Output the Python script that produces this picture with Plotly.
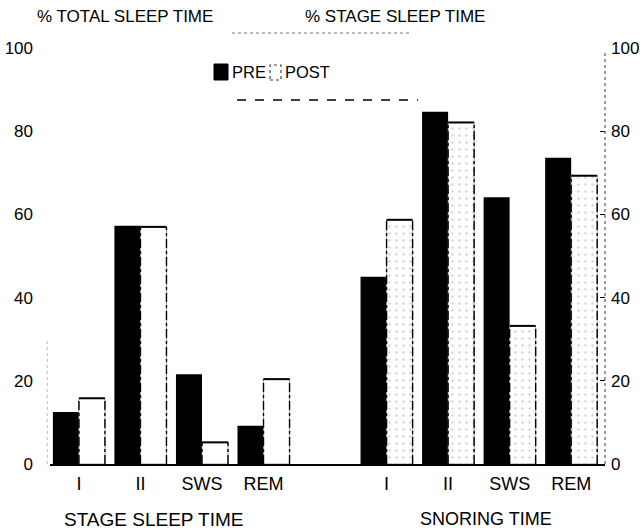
import plotly.graph_objects as go

# ---- data ----
stages = ["I", "II", "SWS", "REM"]
total_pre = [12.5, 57.3, 21.6, 9.2]      # % total sleep time, PRE
total_post = [15.8, 57.0, 5.2, 20.4]     # % total sleep time, POST
snore_pre = [45.0, 84.7, 64.1, 73.6]     # % stage sleep time (snoring), PRE
snore_post = [58.7, 82.1, 33.2, 69.3]    # % stage sleep time (snoring), POST
y_ticks = [0, 20, 40, 60, 80, 100]

# ---- layout constants ----
GROUP_OFFSET = 5
W = 0.423
FONT = "Liberation Sans, Arial, sans-serif"
L, R, T, B = 50, 39, 48, 68
PW, PH = 644 - L - R, 532 - T - B


def px(x):
    return (x - L) / PW


def py(y):
    return (532 - B - y) / PH


left_pos = list(range(len(stages)))
right_pos = [i + GROUP_OFFSET for i in range(len(stages))]

fig = go.Figure()

fig.add_trace(go.Bar(x=left_pos, y=total_pre, width=W, offset=-W, name="PRE",
                     marker=dict(color="black", line=dict(width=0)), yaxis="y"))
fig.add_trace(go.Bar(x=left_pos, y=total_post, width=W, offset=0, name="POST",
                     marker=dict(color="white", line=dict(color="#888", width=0.8)),
                     yaxis="y"))
fig.add_trace(go.Bar(x=right_pos, y=snore_pre, width=W, offset=-W, name="PRE",
                     marker=dict(color="black", line=dict(width=0)), yaxis="y2"))
fig.add_trace(go.Bar(x=right_pos, y=snore_post, width=W, offset=0, name="POST",
                     marker=dict(color="white", line=dict(color="#888", width=0.8),
                                 pattern=dict(shape=".", fgcolor="#aaa", size=7, solidity=0.1)),
                     yaxis="y2"))


# dash-dot outlines of POST bars (built from the data)
def outline(pos, vals, axis):
    tx, ty, sx, sy = [], [], [], []
    for p, v in zip(pos, vals):
        tx += [p, p + W, None]
        ty += [v, v, None]
        sx += [p, p, None, p + W, p + W, None]
        sy += [0, v, None, 0, v, None]
    fig.add_trace(go.Scatter(x=sx, y=sy, mode="lines", yaxis=axis, showlegend=False,
                             hoverinfo="skip", line=dict(color="black", width=1.4, dash="dashdot")))
    fig.add_trace(go.Scatter(x=tx, y=ty, mode="lines", yaxis=axis, showlegend=False,
                             hoverinfo="skip", line=dict(color="black", width=2)))


outline(left_pos, total_post, "y")
outline(right_pos, snore_post, "y2")

ann = dict(xref="paper", yref="paper", showarrow=False, xanchor="center", yanchor="middle")

fig.update_layout(
    width=644, height=532,
    margin=dict(l=L, r=R, t=T, b=B, autoexpand=False),
    paper_bgcolor="white", plot_bgcolor="white",
    barmode="overlay",
    font=dict(family=FONT, size=17, color="black"),
    showlegend=False,
    xaxis=dict(range=[-0.47, 8.55], tickvals=left_pos + right_pos,
               ticktext=stages + stages, showgrid=False, zeroline=False,
               showline=True, linecolor="black", linewidth=2, ticks="",
               ticklabelstandoff=2, tickfont=dict(size=18), automargin=False),
    yaxis=dict(range=[0, 100], tickvals=y_ticks, showgrid=False, zeroline=False,
               showline=False, ticks="", ticklabelstandoff=16, tickfont=dict(size=17),
               automargin=False),
    yaxis2=dict(range=[0, 100], tickvals=y_ticks, overlaying="y", side="right",
                showgrid=False, zeroline=False, showline=False, ticks="inside",
                ticklen=5, tickcolor="black", ticklabelstandoff=5, tickfont=dict(size=17),
                automargin=False),
    annotations=[
        dict(ann, text="% TOTAL SLEEP TIME", x=px(125), y=py(16), font=dict(size=17)),
        dict(ann, text="% STAGE SLEEP TIME", x=px(395), y=py(16), font=dict(size=17)),
        dict(ann, text="STAGE SLEEP TIME", x=px(154), y=py(519), font=dict(size=19)),
        dict(ann, text="SNORING TIME", x=px(486), y=py(519), font=dict(size=18)),
        # legend labels
        dict(ann, text="PRE", x=px(230), y=py(72), xanchor="left", font=dict(size=16.5)),
        dict(ann, text="POST", x=px(283), y=py(72), xanchor="left", font=dict(size=16.5)),
    ],
    shapes=[
        # right axis (dotted)
        dict(type="line", xref="paper", yref="paper", x0=1, x1=1, y0=0, y1=0.99,
             line=dict(color="#555", width=1.2, dash="dot")),
        # faint left axis trace
        dict(type="line", xref="paper", yref="paper", x0=-0.005, x1=-0.005, y0=0, y1=0.3,
             line=dict(color="#bbb", width=1, dash="dot")),
        # legend swatches
        dict(type="rect", xref="paper", yref="paper", x0=px(214), x1=px(228),
             y0=py(80), y1=py(64), fillcolor="black", line=dict(color="black", width=1)),
        dict(type="rect", xref="paper", yref="paper", x0=px(270), x1=px(281),
             y0=py(80), y1=py(65), fillcolor="white", line=dict(color="#444", width=1.2, dash="dot")),
        # legend frame lines
        dict(type="line", xref="paper", yref="paper", x0=px(232), x1=px(412), y0=py(33), y1=py(33),
             line=dict(color="#777", width=1, dash="dot")),
        dict(type="line", xref="paper", yref="paper", x0=px(237), x1=px(418), y0=py(100), y1=py(100),
             line=dict(color="black", width=1.5, dash="dash")),
    ],
)

fig.write_html("out.html", config={"displayModeBar": False},
               post_script="document.body.style.margin='0';")
